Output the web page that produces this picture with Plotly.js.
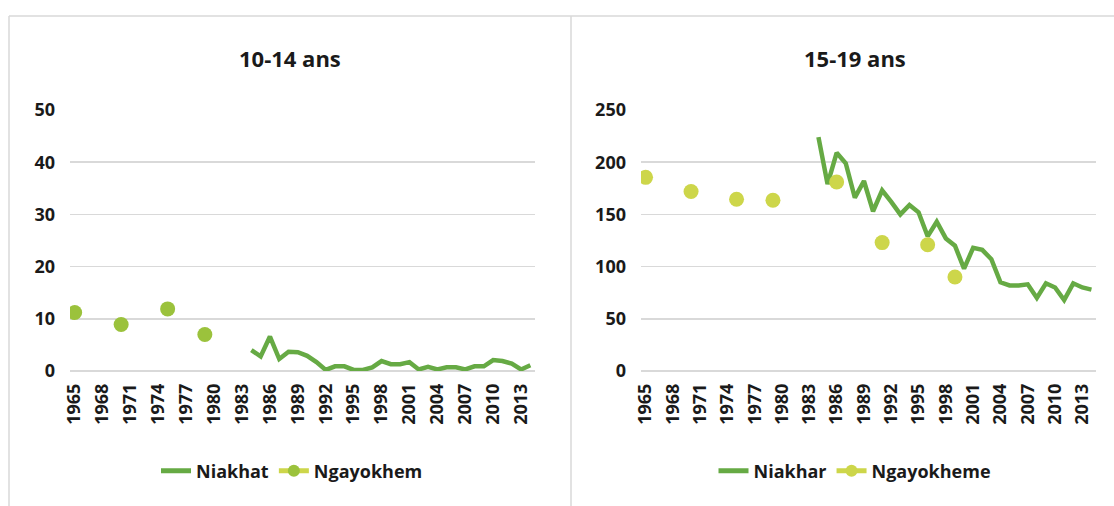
<!DOCTYPE html>
<html>
<head>
<meta charset="utf-8">
<script src="https://cdn.plot.ly/plotly-3.0.1.min.js"></script>
<style>
  html, body { margin: 0; padding: 0; background: #fff; }
  #chart { width: 1114px; height: 506px; }
</style>
</head>
<body>
<div id="chart"></div>
<script>
// ---- data ----
var years = [1965,1966,1967,1968,1969,1970,1971,1972,1973,1974,1975,1976,1977,1978,1979,1980,1981,1982,1983,1984,1985,1986,1987,1988,1989,1990,1991,1992,1993,1994,1995,1996,1997,1998,1999,2000,2001,2002,2003,2004,2005,2006,2007,2008,2009,2010,2011,2012,2013,2014];
var tickYears = [1965,1968,1971,1974,1977,1980,1983,1986,1989,1992,1995,1998,2001,2004,2007,2010,2013];
var tickLabels = ["1965","1968","1971","1974","1977","1980","1983","1986","1989","1992","1995","1998","2001","2004","2007","2010","2013"];

// Niakhar series (1984-2014)
var niakYears = [1984,1985,1986,1987,1988,1989,1990,1991,1992,1993,1994,1995,1996,1997,1998,1999,2000,2001,2002,2003,2004,2005,2006,2007,2008,2009,2010,2011,2012,2013,2014];
var niak10 = [4.0,2.8,6.6,2.3,3.7,3.6,2.9,1.7,0.2,0.9,0.9,0.2,0.2,0.7,1.9,1.3,1.3,1.7,0.3,0.8,0.3,0.7,0.7,0.3,0.9,0.9,2.1,1.9,1.4,0.3,1.1];
var niak15 = [224,179,209,199,166,182,153,173,162,150,159,152,129,143,127,120,98,118,116,107,85,82,82,83,70,84,80,68,84,80,78];

// Ngayokhem series (survey years)
var ngayYears10 = [1965,1970,1975,1979];
var ngay10 = [11.2,8.9,11.9,7.0];
var ngayYears15 = [1965,1970,1975,1979,1986,1991,1996,1999];
var ngay15 = [185.5,172,164.5,163.5,181,123,121,90];

var titles = ["10-14 ans", "15-19 ans"];
var names10 = ["Niakhat", "Ngayokhem"];
var names15 = ["Niakhar", "Ngayokheme"];

// align sparse series to full year list (gaps = null so no line is drawn)
function align(ys, vs) {
  return years.map(function (y) {
    var i = ys.indexOf(y);
    return i >= 0 ? vs[i] : null;
  });
}

var W = 1114, H = 506;
function px(x) { return x / W; }
function py(y) { return 1 - y / H; }

var FONT = "'Open Sans', Lato, sans-serif";
var dark = "#1a1a1a";
var green = "#66aa44";
var lime = "#cdd64a";
var olive = "#9bc23c";

var traces = [
  { x: niakYears, y: niak10, xaxis: "x", yaxis: "y", name: names10[0], mode: "lines",
    line: { color: green, width: 4.5 }, legend: "legend" },
  { x: years, y: align(ngayYears10, ngay10), xaxis: "x", yaxis: "y", name: names10[1], mode: "lines+markers",
    connectgaps: false, line: { color: lime, width: 4.5 }, marker: { color: olive, size: 15 }, legend: "legend" },
  { x: niakYears, y: niak15, xaxis: "x2", yaxis: "y2", name: names15[0], mode: "lines",
    line: { color: green, width: 4.5 }, legend: "legend2" },
  { x: years, y: align(ngayYears15, ngay15), xaxis: "x2", yaxis: "y2", name: names15[1], mode: "lines+markers",
    connectgaps: false, line: { color: lime, width: 4.5 }, marker: { color: lime, size: 15 }, legend: "legend2" }
];

var tickFont = { family: FONT, size: 18, color: dark, weight: 700 };
function xax(d) {
  return { domain: d, range: [1964.5, 2014.5], tickmode: "array", tickvals: tickYears, ticktext: tickLabels,
    tickangle: -90, showgrid: false, zeroline: false, showline: false, ticks: "", tickfont: tickFont,
    ticklabelstandoff: 8, fixedrange: true };
}
function yax(d, r, dt, anchor) {
  return { domain: d, range: r, dtick: dt, tick0: 0, anchor: anchor, showgrid: true, gridcolor: "#d9d9d9", gridwidth: 1.5,
    zeroline: true, zerolinecolor: "#d9d9d9", zerolinewidth: 1.5, showline: false, ticks: "",
    tickfont: tickFont, ticklabelstandoff: 14, fixedrange: true };
}
var yd = [py(371), py(110)];

var legendFont = { family: FONT, size: 18, color: dark, weight: 700 };
var borderColor = "#d9d9d9";
var layout = {
  width: W, height: H,
  margin: { l: 0, r: 0, t: 0, b: 0 },
  paper_bgcolor: "#ffffff", plot_bgcolor: "#ffffff",
  font: { family: FONT, color: dark },
  xaxis: Object.assign(xax([px(70), px(535)]), { anchor: "y" }),
  yaxis: yax(yd, [0, 50], 10, "x"),
  xaxis2: Object.assign(xax([px(641), px(1096)]), { anchor: "y2" }),
  yaxis2: yax(yd, [0, 250], 50, "x2"),
  showlegend: true,
  legend: { orientation: "h", x: px(292), xanchor: "center", y: py(471), yanchor: "middle", itemsizing: "constant",
    font: legendFont, bgcolor: "rgba(0,0,0,0)" },
  legend2: { orientation: "h", x: px(855), xanchor: "center", y: py(471), yanchor: "middle", itemsizing: "constant",
    font: legendFont, bgcolor: "rgba(0,0,0,0)" },
  annotations: [
    { text: titles[0], xref: "paper", yref: "paper", x: px(290), y: py(58), xanchor: "center", yanchor: "middle",
      showarrow: false, font: { family: FONT, size: 22, color: dark, weight: 700 } },
    { text: titles[1], xref: "paper", yref: "paper", x: px(855), y: py(58), xanchor: "center", yanchor: "middle",
      showarrow: false, font: { family: FONT, size: 22, color: dark, weight: 700 } }
  ],
  shapes: [
    { type: "line", xref: "paper", yref: "paper", x0: px(9), x1: px(9), y0: py(16), y1: 0, line: { color: borderColor, width: 1.5 } },
    { type: "line", xref: "paper", yref: "paper", x0: px(571), x1: px(571), y0: py(16), y1: 0, line: { color: borderColor, width: 1.5 } },
    { type: "line", xref: "paper", yref: "paper", x0: px(9), x1: 1, y0: py(16), y1: py(16), line: { color: borderColor, width: 1.5 } }
  ]
};

Plotly.newPlot("chart", traces, layout, { staticPlot: true, displayModeBar: false });
</script>
</body>
</html>
